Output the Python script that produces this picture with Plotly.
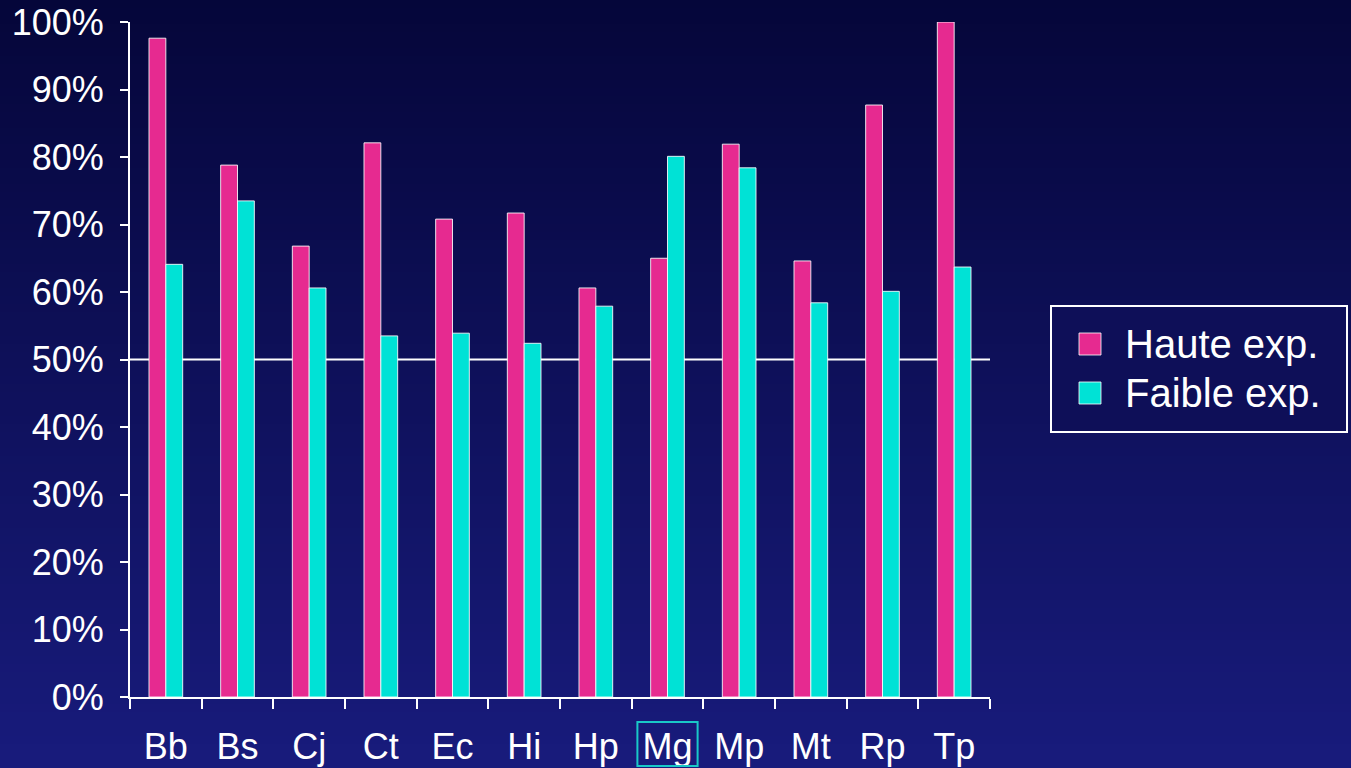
import plotly.graph_objects as go

# Species and expression rates (%)
species = ["Bb", "Bs", "Cj", "Ct", "Ec", "Hi", "Hp", "Mg", "Mp", "Mt", "Rp", "Tp"]
haute_exp = [97.6, 78.8, 66.8, 82.1, 70.8, 71.7, 60.6, 65.0, 81.9, 64.6, 87.7, 100.0]
faible_exp = [64.1, 73.5, 60.6, 53.5, 53.9, 52.4, 57.9, 80.1, 78.4, 58.4, 60.1, 63.7]
series_names = ["Haute exp.", "Faible exp."]
y_ticks = list(range(0, 101, 10))
y_labels = [f"{v}%" for v in y_ticks]

MAGENTA = "#e62a90"
CYAN = "#00e2d6"
FONT = "Liberation Sans, Arial, sans-serif"

W, H = 1351, 768
L, R, T, B = 130, 990, 22, 697  # plot area in pixels


def px_x(px):
    return (px - L) / (R - L)


def px_y(py):
    return (B - py) / (B - T)


fig = go.Figure()
for name, vals, col in [(series_names[0], haute_exp, MAGENTA), (series_names[1], faible_exp, CYAN)]:
    fig.add_trace(go.Bar(
        x=species, y=vals, name=name, showlegend=False,
        marker=dict(color=col, line=dict(color="rgba(255,255,255,0.85)", width=1)),
    ))

shapes = []
# vertical background gradient
top_c = (5, 6, 58)
bot_c = (24, 27, 124)
n = 96
for i in range(n):
    t = i / (n - 1)
    c = tuple(round(top_c[k] + (bot_c[k] - top_c[k]) * t) for k in range(3))
    y0 = H * i / n
    y1 = H * (i + 1) / n + 1
    shapes.append(dict(type="rect", xref="paper", yref="paper", layer="below",
                       x0=px_x(0), x1=px_x(W), y0=px_y(y1), y1=px_y(y0),
                       fillcolor="rgb(%d,%d,%d)" % c, line=dict(width=0)))

# 50% reference line
shapes.append(dict(type="line", xref="paper", yref="y", layer="below",
                   x0=0, x1=1, y0=50, y1=50, line=dict(color="white", width=2)))

# highlight box around the Mg label
mg = species.index("Mg")
shapes.append(dict(type="rect", xref="x", yref="paper",
                   x0=mg - 0.42, x1=mg + 0.42, y0=px_y(766), y1=px_y(722),
                   line=dict(color="#19c8c8", width=2), fillcolor="rgba(0,0,0,0)"))

# legend box
shapes.append(dict(type="rect", xref="paper", yref="paper",
                   x0=px_x(1051), x1=px_x(1347), y0=px_y(432), y1=px_y(306),
                   line=dict(color="white", width=2), fillcolor="rgb(14,15,88)"))
annotations = []
for name, col, yc in [(series_names[0], MAGENTA, 344), (series_names[1], CYAN, 393)]:
    shapes.append(dict(type="rect", xref="paper", yref="paper",
                       x0=px_x(1079), x1=px_x(1101), y0=px_y(yc + 11), y1=px_y(yc - 11),
                       line=dict(color="rgba(255,255,255,0.8)", width=1), fillcolor=col))
    annotations.append(dict(xref="paper", yref="paper", x=px_x(1123), y=px_y(yc),
                            xanchor="left", yanchor="middle", showarrow=False, text=name,
                            font=dict(family=FONT, size=40, color="white")))

fig.update_layout(
    width=W, height=H,
    margin=dict(l=L, r=W - R, t=T, b=H - B, autoexpand=False),
    paper_bgcolor="rgb(14,16,90)", plot_bgcolor="rgba(0,0,0,0)",
    barmode="group", bargap=0.53, bargroupgap=0,
    shapes=shapes, annotations=annotations,
    font=dict(family=FONT, color="white", size=36),
    showlegend=False,
)
fig.update_xaxes(
    automargin=False,
    showgrid=False, showline=True, linecolor="white", linewidth=2,
    ticks="outside", tickson="boundaries", ticklen=10, tickwidth=2, tickcolor="white",
    ticklabelstandoff=17,
    tickfont=dict(family=FONT, size=36, color="white"),
)
fig.update_yaxes(
    automargin=False,
    range=[0, 100], tickmode="array", tickvals=y_ticks, ticktext=y_labels,
    showgrid=False, zeroline=False,
    showline=True, linecolor="white", linewidth=2,
    ticks="outside", ticklen=8, tickwidth=2, tickcolor="white",
    ticklabelstandoff=9,
    tickfont=dict(family=FONT, size=36, color="white"),
)

fig.write_html("out.html")
